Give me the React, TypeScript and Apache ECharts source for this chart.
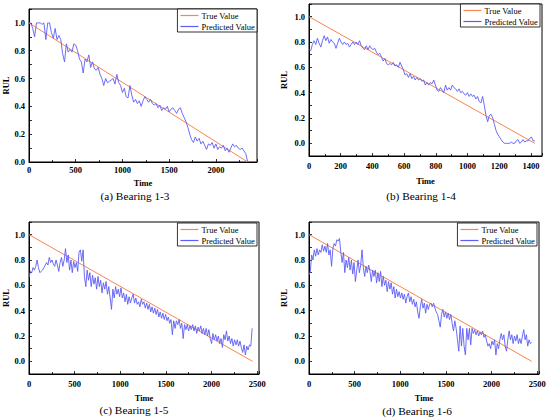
import React, { useEffect, useRef } from "react";
import * as echarts from "echarts";

// ---- Data ----
const panelCaptions = ["(a) Bearing 1-3", "(b) Bearing 1-4", "(c) Bearing 1-5", "(d) Bearing 1-6"];
const seriesNames = ["True Value", "Predicted Value"];

// time of last sample / end of true line for each bearing
const predEndA = 2340;
const trueEndA = 2340;
const predEndB = 1425;
const trueEndB = 1425;
const predEndC = 2445;
const trueEndC = 2450;
const predEndD = 2440;
const trueEndD = 2440;

const xMaxA = 2440;
const xMaxB = 1470;
const xMaxC = 2520;
const xMaxD = 2520;
const xIntervalA = 500;
const xIntervalB = 200;
const xIntervalC = 500;
const xIntervalD = 500;

const predA = [
  1.0, 1.0, 0.96, 0.9, 1.0, 1.0, 1.0, 0.99, 1.0, 0.88,
  1.0, 1.0, 0.93, 0.89, 0.96, 0.88, 0.91, 0.88, 0.78, 0.72,
  0.85, 0.79, 0.81, 0.79, 0.85, 0.84, 0.8, 0.74, 0.72, 0.64,
  0.74, 0.72, 0.77, 0.68, 0.72, 0.67, 0.66, 0.68, 0.63, 0.6,
  0.55, 0.6, 0.57, 0.58, 0.59, 0.6, 0.56, 0.63, 0.57, 0.55,
  0.5, 0.53, 0.47, 0.46, 0.55, 0.48, 0.43, 0.45, 0.42, 0.44,
  0.4, 0.44, 0.47, 0.45, 0.43, 0.45, 0.42, 0.41, 0.42, 0.39,
  0.41, 0.37, 0.39, 0.38, 0.4, 0.36, 0.38, 0.39, 0.37, 0.35,
  0.38, 0.39, 0.35, 0.32, 0.29, 0.25, 0.2, 0.16, 0.14, 0.18,
  0.15, 0.17, 0.13, 0.15, 0.12, 0.09, 0.13, 0.12, 0.14, 0.1,
  0.13, 0.09, 0.11, 0.1, 0.12, 0.08, 0.1, 0.07, 0.1, 0.13,
  0.11, 0.12, 0.1, 0.09, 0.1, 0.08, 0.06, 0.0,
];

const predB = [
  0.74, 0.73, 0.78, 0.81, 0.78, 0.83, 0.79, 0.76, 0.81, 0.85,
  0.81, 0.84, 0.79, 0.82, 0.8, 0.79, 0.75, 0.79, 0.83, 0.8,
  0.78, 0.8, 0.78, 0.79, 0.76, 0.78, 0.8, 0.78, 0.8, 0.78,
  0.81, 0.77, 0.75, 0.74, 0.77, 0.74, 0.77, 0.75, 0.74, 0.75,
  0.72, 0.7, 0.71, 0.68, 0.65, 0.67, 0.63, 0.62, 0.63, 0.62,
  0.64, 0.61, 0.62, 0.6, 0.64, 0.61, 0.58, 0.54, 0.55, 0.52,
  0.55, 0.51, 0.53, 0.5, 0.52, 0.5, 0.51, 0.49, 0.5, 0.46,
  0.48, 0.46, 0.48, 0.47, 0.5, 0.46, 0.42, 0.41, 0.44, 0.42,
  0.4, 0.46, 0.42, 0.44, 0.42, 0.46, 0.44, 0.43, 0.41, 0.43,
  0.4, 0.41, 0.39, 0.38, 0.4, 0.37, 0.39, 0.37, 0.38, 0.35,
  0.37, 0.33, 0.32, 0.37, 0.3, 0.22, 0.17, 0.22, 0.23, 0.2,
  0.15, 0.1, 0.07, 0.05, 0.03, 0.01, 0.0, 0.0, 0.0, 0.0,
  0.01, 0.0, 0.0, 0.02, 0.03, 0.0, 0.01, 0.03, 0.01, 0.02,
  0.02, 0.04, 0.05, 0.02, 0.02,
];

const predC = [
  0.66, 0.71, 0.7, 0.74, 0.72, 0.75, 0.8, 0.74, 0.7, 0.71,
  0.72, 0.74, 0.76, 0.78, 0.76, 0.82, 0.78, 0.8, 0.77, 0.75,
  0.8, 0.76, 0.71, 0.78, 0.82, 0.75, 0.8, 0.89, 0.78, 0.84,
  0.72, 0.8, 0.7, 0.79, 0.74, 0.78, 0.71, 0.86, 0.88, 0.79,
  0.88, 0.67, 0.59, 0.72, 0.64, 0.7, 0.59, 0.68, 0.61, 0.66,
  0.57, 0.67, 0.59, 0.64, 0.54, 0.62, 0.57, 0.63, 0.53, 0.59,
  0.5, 0.41, 0.57, 0.5, 0.59, 0.53, 0.57, 0.51, 0.58, 0.5,
  0.54, 0.47, 0.53, 0.45, 0.51, 0.46, 0.5, 0.53, 0.46, 0.5,
  0.45, 0.47, 0.43, 0.49, 0.45, 0.47, 0.42, 0.46, 0.41, 0.45,
  0.39, 0.43, 0.38, 0.42, 0.37, 0.41, 0.35, 0.39, 0.34, 0.38,
  0.33, 0.37, 0.32, 0.35, 0.3, 0.33, 0.21, 0.32, 0.26, 0.32,
  0.29, 0.33, 0.26, 0.3, 0.18, 0.29, 0.25, 0.29, 0.24, 0.28,
  0.25, 0.29, 0.24, 0.28, 0.22, 0.27, 0.24, 0.28, 0.22, 0.26,
  0.21, 0.26, 0.2, 0.25, 0.18, 0.14, 0.22, 0.17, 0.21, 0.16,
  0.2, 0.14, 0.18, 0.11, 0.21, 0.17, 0.24, 0.16, 0.2, 0.14,
  0.18, 0.12, 0.17, 0.13, 0.17, 0.12, 0.16, 0.11, 0.07, 0.13,
  0.05, 0.12, 0.09, 0.13, 0.12, 0.26,
];

const predD = [
  0.68, 0.71, 0.84, 0.8, 0.88, 0.83, 0.89, 0.84, 0.88, 0.86,
  0.92, 0.87, 0.91, 0.86, 0.93, 0.84, 0.88, 0.75, 0.89, 0.93,
  0.91, 0.96, 0.95, 0.97, 0.86, 0.78, 0.86, 0.7, 0.8, 0.74,
  0.82, 0.72, 0.8, 0.69, 0.78, 0.63, 0.72, 0.8, 0.7, 0.76,
  0.88, 0.74, 0.67, 0.75, 0.7, 0.76, 0.71, 0.63, 0.72, 0.67,
  0.72, 0.62, 0.7, 0.63, 0.71, 0.59, 0.67, 0.6, 0.64, 0.55,
  0.63, 0.57, 0.62, 0.53, 0.59, 0.5, 0.57, 0.51, 0.55, 0.5,
  0.54, 0.49, 0.53, 0.46, 0.51, 0.54, 0.47, 0.51, 0.45, 0.49,
  0.43, 0.47, 0.39, 0.34, 0.43, 0.49, 0.42, 0.46, 0.38, 0.45,
  0.41, 0.45, 0.46, 0.43, 0.46, 0.42, 0.39, 0.37, 0.32, 0.27,
  0.37, 0.41, 0.35, 0.39, 0.34, 0.38, 0.33, 0.37, 0.3, 0.24,
  0.32, 0.26, 0.17, 0.08, 0.28, 0.12, 0.26, 0.12, 0.05, 0.26,
  0.17, 0.26, 0.13, 0.26, 0.22, 0.25, 0.21, 0.24, 0.2, 0.23,
  0.21, 0.24, 0.19, 0.21, 0.16, 0.12, 0.14, 0.1, 0.16, 0.13,
  0.17, 0.05, 0.14, 0.1, 0.17, 0.22, 0.17, 0.21, 0.12, 0.08,
  0.17, 0.24, 0.17, 0.21, 0.14, 0.2, 0.16, 0.21, 0.14, 0.18,
  0.14, 0.2, 0.25, 0.17, 0.21, 0.12, 0.17, 0.14, 0.15,
];

const yMinA = 0;
const yMinOther = -0.1;
const yMax = 1.1;

// ---- Styling ----
const FONT = "Liberation Serif";
const TRUE_COLOR = "#F7864F";
const PRED_COLOR = "#5C5CF6";

type Panel = {
  pred: number[];
  predEnd: number;
  trueEnd: number;
  xMax: number;
  xInterval: number;
  yMin: number;
  grid: { left: number; top: number; width: number; height: number };
  nameGapX: number;
  nameGapY: number;
  labelMarginX: number;
  legend: { right: number; top: number };
  caption: { x: number; y: number };
};

const panels: Panel[] = [
  {
    pred: predA, predEnd: predEndA, trueEnd: trueEndA, xMax: xMaxA, xInterval: xIntervalA, yMin: yMinA,
    grid: { left: 29, top: 9, width: 228, height: 153 },
    nameGapX: 16, nameGapY: 17, labelMarginX: 3,
    legend: { right: 293, top: 9 }, caption: { x: 135, y: 196 },
  },
  {
    pred: predB, predEnd: predEndB, trueEnd: trueEndB, xMax: xMaxB, xInterval: xIntervalB, yMin: yMinOther,
    grid: { left: 309, top: 4, width: 233, height: 152 },
    nameGapX: 20, nameGapY: 21, labelMarginX: 5,
    legend: { right: 10, top: 4 }, caption: { x: 421, y: 196 },
  },
  {
    pred: predC, predEnd: predEndC, trueEnd: trueEndC, xMax: xMaxC, xInterval: xIntervalC, yMin: yMinOther,
    grid: { left: 28, top: 222, width: 231, height: 152 },
    nameGapX: 19, nameGapY: 19, labelMarginX: 5,
    legend: { right: 293, top: 223 }, caption: { x: 134, y: 410 },
  },
  {
    pred: predD, predEnd: predEndD, trueEnd: trueEndD, xMax: xMaxD, xInterval: xIntervalD, yMin: yMinOther,
    grid: { left: 309, top: 222, width: 230, height: 152 },
    nameGapX: 19, nameGapY: 21, labelMarginX: 5,
    legend: { right: 13, top: 223 }, caption: { x: 417, y: 411 },
  },
];

const yLabelFormatter = (v: number) => {
  const k = Math.round(v * 10);
  return k % 2 === 0 && k >= 0 && k <= 10 ? (k / 10).toFixed(1) : "";
};

function buildOption() {
  const grids: any[] = [];
  const xAxes: any[] = [];
  const yAxes: any[] = [];
  const series: any[] = [];
  const legends: any[] = [];
  const graphics: any[] = [];

  panels.forEach((p, i) => {
    grids.push({
      ...p.grid,
      show: true,
      borderColor: "#000",
      borderWidth: 1,
      backgroundColor: "transparent",
      containLabel: false,
    });
    xAxes.push({
      type: "value",
      gridIndex: i,
      min: 0,
      max: p.xMax,
      interval: p.xInterval,
      name: "Time",
      nameLocation: "middle",
      nameGap: p.nameGapX,
      nameTextStyle: { fontFamily: FONT, fontWeight: "bold", fontSize: 8.5, color: "#000" },
      axisLine: { show: true, onZero: false, lineStyle: { color: "#000", width: 1 } },
      axisTick: { show: true, inside: true, length: 3, lineStyle: { color: "#000", width: 0.8 } },
      minorTick: { show: true, splitNumber: 2, length: 2, lineStyle: { color: "#000", width: 0.8 } },
      splitLine: { show: false },
      axisLabel: {
        fontFamily: FONT, fontWeight: "bold", fontSize: 8.5, color: "#000",
        margin: p.labelMarginX, showMaxLabel: false,
        formatter: (v: number) => (v % p.xInterval === 0 ? String(v) : ""),
      },
    });
    yAxes.push({
      type: "value",
      gridIndex: i,
      min: p.yMin,
      max: yMax,
      interval: 0.1,
      name: "RUL",
      nameLocation: "middle",
      nameRotate: 90,
      nameGap: p.nameGapY,
      nameTextStyle: { fontFamily: FONT, fontWeight: "bold", fontSize: 8.5, color: "#000" },
      axisLine: { show: true, onZero: false, lineStyle: { color: "#000", width: 1 } },
      axisTick: { show: true, inside: true, length: 3, lineStyle: { color: "#000", width: 0.8 } },
      splitLine: { show: false },
      axisLabel: {
        fontFamily: FONT, fontWeight: "bold", fontSize: 8.5, color: "#000", margin: 4,
        showMinLabel: true, showMaxLabel: true,
        formatter: yLabelFormatter,
      },
    });
    const step = p.predEnd / (p.pred.length - 1);
    series.push({
      type: "line",
      name: seriesNames[0],
      xAxisIndex: i,
      yAxisIndex: i,
      data: [[0, 1], [p.trueEnd, 0]],
      showSymbol: false,
      symbol: "none",
      lineStyle: { color: TRUE_COLOR, width: 1 },
      itemStyle: { color: TRUE_COLOR },
      z: 2,
    });
    series.push({
      type: "line",
      name: seriesNames[1],
      xAxisIndex: i,
      yAxisIndex: i,
      data: p.pred.map((v, k) => [k * step, v]),
      showSymbol: false,
      symbol: "none",
      lineStyle: { color: PRED_COLOR, width: 0.9 },
      itemStyle: { color: PRED_COLOR },
      z: 3,
    });
    legends.push({
      data: seriesNames,
      orient: "vertical",
      right: p.legend.right,
      top: p.legend.top,
      icon: "rect",
      itemWidth: 18,
      itemHeight: 1.2,
      itemGap: 2,
      padding: [2, 2, 1, 3],
      borderColor: "#000",
      borderWidth: 0.8,
      backgroundColor: "#fff",
      selectedMode: false,
      textStyle: { fontFamily: FONT, fontSize: 8.5, color: "#000", padding: [0, 0, 0, -2] },
    });
    graphics.push({
      type: "text",
      x: p.caption.x,
      y: p.caption.y,
      style: {
        text: panelCaptions[i],
        fontFamily: FONT,
        fontSize: 11.3,
        fill: "#000",
        textAlign: "center",
        textVerticalAlign: "middle",
      },
    });
  });

  return {
    animation: false,
    backgroundColor: "#fff",
    textStyle: { fontFamily: FONT },
    grid: grids,
    xAxis: xAxes,
    yAxis: yAxes,
    series,
    legend: legends,
    graphic: graphics,
  };
}

export default function App() {
  const ref = useRef<HTMLDivElement | null>(null);
  useEffect(() => {
    if (!ref.current) return;
    const chart = echarts.init(ref.current, undefined, { renderer: "svg" });
    chart.setOption(buildOption() as any);
    return () => chart.dispose();
  }, []);
  return (
    <div
      ref={ref}
      style={{ position: "absolute", left: 0, top: 0, width: 550, height: 420, background: "#fff" }}
    />
  );
}
